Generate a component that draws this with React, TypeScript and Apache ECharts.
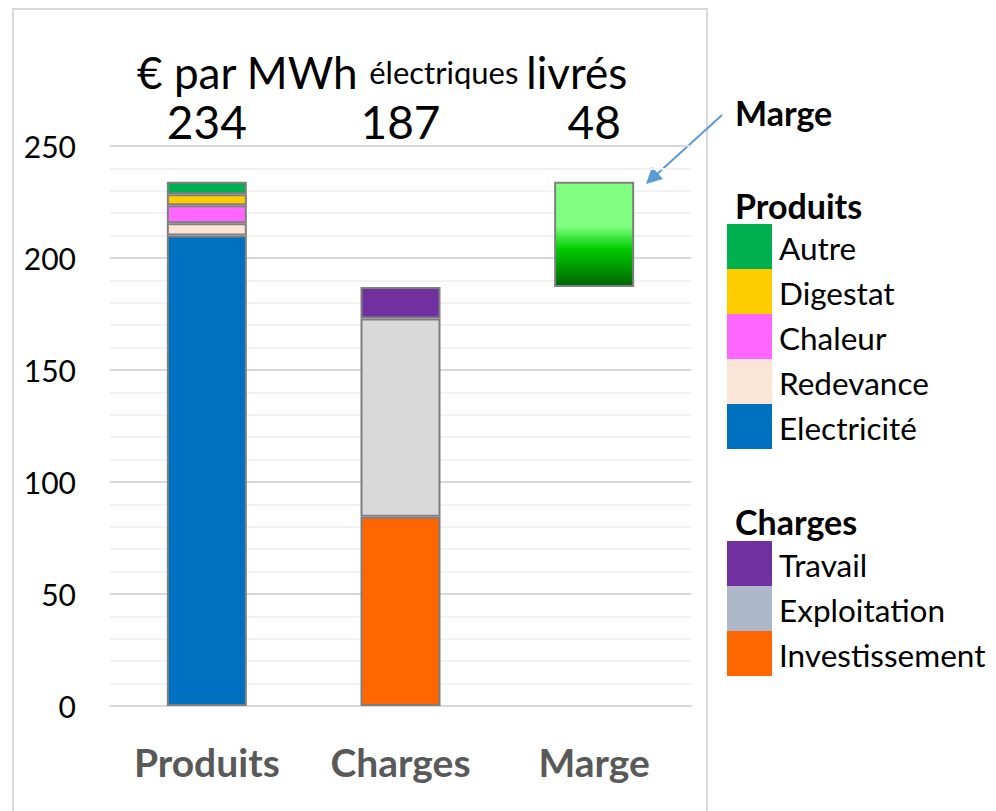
import React, { useEffect, useRef } from "react";
import * as echarts from "echarts";

const categories = ["Produits", "Charges", "Marge"];
const totalLabels = ["234", "187", "48"];

// Produits (bottom to top)
const electricite = [210, "-", "-"];
const redevance = [5.5, "-", "-"];
const chaleur = [8, "-", "-"];
const digestat = [5, "-", "-"];
const autre = [5.5, "-", "-"];

// Charges (bottom to top)
const investissement = ["-", 84.5, "-"];
const exploitation = ["-", 88.5, "-"];
const travail = ["-", 14, "-"];

// Marge (floating)
const margeBase = ["-", "-", 187];
const marge = ["-", "-", 47];

const legendProduits = ["Autre", "Digestat", "Chaleur", "Redevance", "Electricité"];
const legendCharges = ["Travail", "Exploitation", "Investissement"];

const COLORS: Record<string, string> = {
  Autre: "#00b050",
  Digestat: "#ffcc00",
  Chaleur: "#ff66ff",
  Redevance: "#fbe5d6",
  Electricité: "#0070c0",
  Travail: "#7030a0",
  Exploitation: "#d9d9d9",
  Investissement: "#ff6600",
};
const LEGEND_COLORS: Record<string, string> = { ...COLORS, Exploitation: "#adb9ca" };

const FONT = "Lato, 'Open Sans', sans-serif";

export default function App() {
  const ref = useRef<HTMLDivElement>(null);
  useEffect(() => {
    if (!ref.current) return;
    const chart = echarts.init(ref.current, undefined, { renderer: "svg" });
    const border = { borderColor: "#7f7f7f", borderWidth: 2 };
    const seg = (name: string, data: any[]) => ({
      name,
      type: "bar",
      stack: "total",
      barWidth: 80,
      data,
      itemStyle: { color: COLORS[name], ...border },
    });

    const graphics: any[] = [];
    graphics.push({
      type: "rect",
      shape: { x: 13, y: 9, width: 694, height: 840 },
      style: { fill: "none", stroke: "#d9d9d9", lineWidth: 2 },
      z: -10,
    });
    graphics.push({
      type: "text",
      x: 382,
      y: 72,
      style: {
        text: "{b|€ par MWh }{s|électriques }{b|livrés}",
        align: "center",
        verticalAlign: "middle",
        fontFamily: FONT,
        fill: "#000",
        rich: {
          b: { fontSize: 44, fontFamily: FONT, fill: "#000" },
          s: { fontSize: 31, fontFamily: FONT, fill: "#000" },
        },
      },
    });
    // Marge annotation
    graphics.push({
      type: "text",
      x: 735,
      y: 112,
      style: { text: "Marge", fontSize: 34, fontWeight: "bold", fontFamily: FONT, fill: "#000", verticalAlign: "middle" },
    });
    graphics.push({
      type: "line",
      shape: { x1: 722, y1: 115, x2: 656, y2: 175 },
      style: { stroke: "#5b9bd5", lineWidth: 2 },
    });
    graphics.push({
      type: "polygon",
      shape: { points: [[646, 184], [663, 179], [652, 167]] },
      style: { fill: "#5b9bd5" },
    });
    // Legend: Produits
    graphics.push({
      type: "text",
      x: 735,
      y: 205,
      style: { text: "Produits", fontSize: 34, fontWeight: "bold", fontFamily: FONT, fill: "#000", verticalAlign: "middle" },
    });
    legendProduits.forEach((n, i) => {
      const y = 224 + i * 45;
      graphics.push({ type: "rect", shape: { x: 727, y, width: 45, height: 45 }, style: { fill: LEGEND_COLORS[n] } });
      graphics.push({
        type: "text",
        x: 779,
        y: y + 24,
        style: { text: n, fontSize: 31.5, fontFamily: FONT, fill: "#000", verticalAlign: "middle" },
      });
    });
    graphics.push({
      type: "text",
      x: 735,
      y: 521,
      style: { text: "Charges", fontSize: 34, fontWeight: "bold", fontFamily: FONT, fill: "#000", verticalAlign: "middle" },
    });
    legendCharges.forEach((n, i) => {
      const y = 541 + i * 45;
      graphics.push({ type: "rect", shape: { x: 727, y, width: 45, height: 45 }, style: { fill: LEGEND_COLORS[n] } });
      graphics.push({
        type: "text",
        x: 779,
        y: y + 24,
        style: { text: n, fontSize: 31.5, fontFamily: FONT, fill: "#000", verticalAlign: "middle" },
      });
    });

    chart.setOption({
      animation: false,
      backgroundColor: "#fff",
      grid: { left: 110, right: 305, top: 146, bottom: 105, containLabel: false },
      xAxis: [
        {
          type: "category",
          data: categories,
          position: "bottom",
          axisLine: { show: true, lineStyle: { color: "#d9d9d9", width: 2 } },
          axisTick: { show: false },
          axisLabel: { fontSize: 39, fontWeight: "bold", color: "#595959", fontFamily: FONT, margin: 36 },
        },
        {
          type: "category",
          data: totalLabels,
          position: "top",
          axisLine: { show: false },
          axisTick: { show: false },
          axisLabel: { fontSize: 46, color: "#000", fontFamily: FONT, margin: 2 },
        },
      ],
      yAxis: {
        type: "value",
        min: 0,
        max: 250,
        interval: 50,
        axisLine: { show: false },
        axisTick: { show: false },
        axisLabel: { fontSize: 30, color: "#000", fontFamily: FONT, margin: 34 },
        splitLine: { lineStyle: { color: "#d9d9d9", width: 2 } },
        minorTick: { show: false, splitNumber: 5 },
        minorSplitLine: { show: true, lineStyle: { color: "#f2f2f2", width: 2 } },
      },
      series: [
        seg("Electricité", electricite),
        seg("Redevance", redevance),
        seg("Chaleur", chaleur),
        seg("Digestat", digestat),
        seg("Autre", autre),
        seg("Investissement", investissement),
        seg("Exploitation", exploitation),
        seg("Travail", travail),
        {
          name: "base",
          type: "bar",
          stack: "total",
          barWidth: 80,
          data: margeBase,
          itemStyle: { color: "transparent", borderWidth: 0 },
          silent: true,
        },
        {
          name: "Marge",
          type: "bar",
          stack: "total",
          barWidth: 80,
          data: marge,
          itemStyle: {
            ...border,
            color: new echarts.graphic.LinearGradient(0, 0, 0, 1, [
              { offset: 0, color: "#80ff80" },
              { offset: 0.42, color: "#80ff80" },
              { offset: 0.64, color: "#00cc00" },
              { offset: 1, color: "#006400" },
            ]),
          },
        },
      ],
      graphic: graphics,
    });
    return () => chart.dispose();
  }, []);
  return (
    <div
      ref={ref}
      style={{ position: "fixed", left: 0, top: 0, width: 996, height: 811, background: "#fff" }}
    />
  );
}
